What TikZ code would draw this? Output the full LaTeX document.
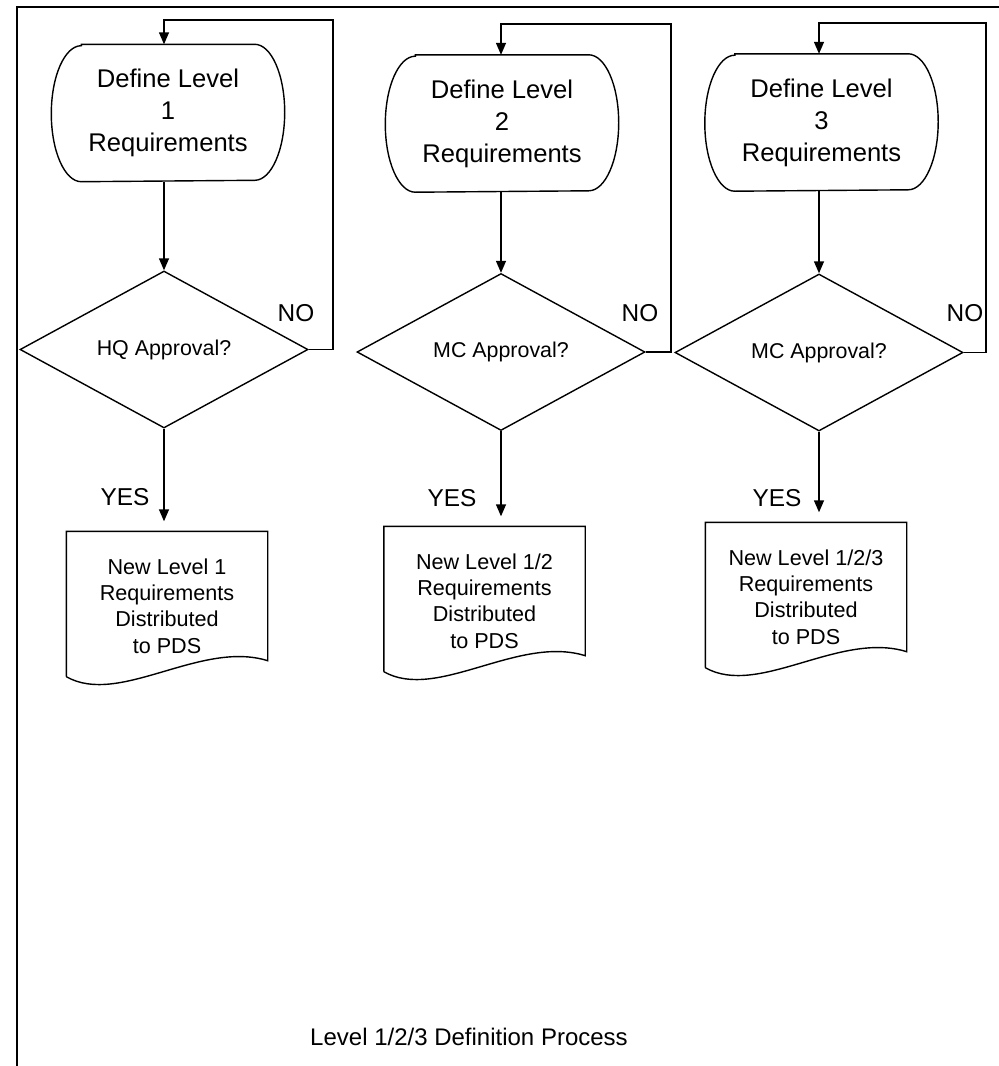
\documentclass[tikz,border=0pt]{standalone}
\usepackage{fontspec}
\setmainfont{Liberation Sans}
\usetikzlibrary{shapes.geometric,arrows.meta}

\begin{document}
\begin{tikzpicture}[x=0.5pt,y=0.5pt,
    line width=0.7pt,
    arr/.style={-{Triangle[length=6pt,width=5pt]}},
    term/.style={minimum width=116pt, minimum height=68pt, inner sep=0pt,
        align=center, font=\fontsize{12.8}{16}\selectfont},
    decision/.style={diamond, draw, minimum width=144pt, minimum height=78.5pt,
        inner sep=0pt, font=\fontsize{10.7}{13}\selectfont},
    doc/.style={minimum width=100pt, minimum height=72pt, inner sep=0pt,
        align=center, font=\fontsize{10.8}{13.2}\selectfont},
    lbl/.style={font=\fontsize{12.2}{14}\selectfont, inner sep=0pt}]

    \useasboundingbox (0,0) rectangle (999,-1066);
    % frame
    \draw[line width=1pt] (17,-1066) -- (17,-7) -- (999,-7);

    % define steps
    \node[term] (t1) at (168,-113) {Define Level\\1\\Requirements};
    \node[term] (t2) at (502,-123.5) {Define Level\\2\\Requirements};
    \node[term] (t3) at (821.5,-122.5) {Define Level\\3\\Requirements};
    \foreach \n in {t1,t2,t3}
        \draw ([xshift=15pt]\n.north west) -- ([xshift=-15pt]\n.north east)
            arc[start angle=90, end angle=-90, x radius=30, y radius=68]
            -- ([xshift=15pt]\n.south west)
            arc[start angle=270, end angle=90, x radius=30, y radius=68] -- cycle;

    % approvals
    \node[decision] (d1) at (164,-349.5) {HQ Approval?};
    \node[decision] (d2) at (501,-352) {MC Approval?};
    \node[decision] (d3) at (819,-352.5) {MC Approval?};

    % documents
    \node[doc] (doc1) at (167,-606) {New Level 1\\Requirements\\Distributed\\to PDS};
    \node[doc] (doc2) at (484.5,-601) {New Level 1/2\\Requirements\\Distributed\\to PDS};
    \node[doc] (doc3) at (806,-597) {New Level 1/2/3\\Requirements\\Distributed\\to PDS};
    \foreach \n in {doc1,doc2,doc3}
        \draw ([yshift=1pt]\n.south west) -- ([yshift=1pt]\n.north west)
            -- ([yshift=1pt]\n.north east) -- ([yshift=9pt]\n.south east)
            .. controls +(-67,21) and +(53,-30) .. ([yshift=1pt]\n.south west);

    % loop corners
    \coordinate (r1) at (333,-20);
    \coordinate (r2) at (671,-24);
    \coordinate (r3) at (986,-23);

    \foreach \i in {1,2,3} {
        \draw[arr] (t\i.south -| d\i.north) -- (d\i.north);
        \draw[arr] (d\i.south) -- ([yshift=6pt]d\i.south |- doc\i.north);
        \draw[arr] (d\i.east) -| (r\i) -| (t\i.north -| d\i.north);
    }

    % labels
    \node[lbl] (no1) at (296,-313) {NO};
    \node[lbl] (no2) at (640,-313) {NO};
    \node[lbl] (no3) at (965,-313) {NO};
    \node[lbl] (yes1) at (125,-497) {YES};
    \node[lbl] (yes2) at (452,-498) {YES};
    \node[lbl] (yes3) at (777,-498) {YES};

    \node[font=\fontsize{12}{14}\selectfont] (title) at (469,-1037)
        {Level 1/2/3 Definition Process};

\end{tikzpicture}
\end{document}
